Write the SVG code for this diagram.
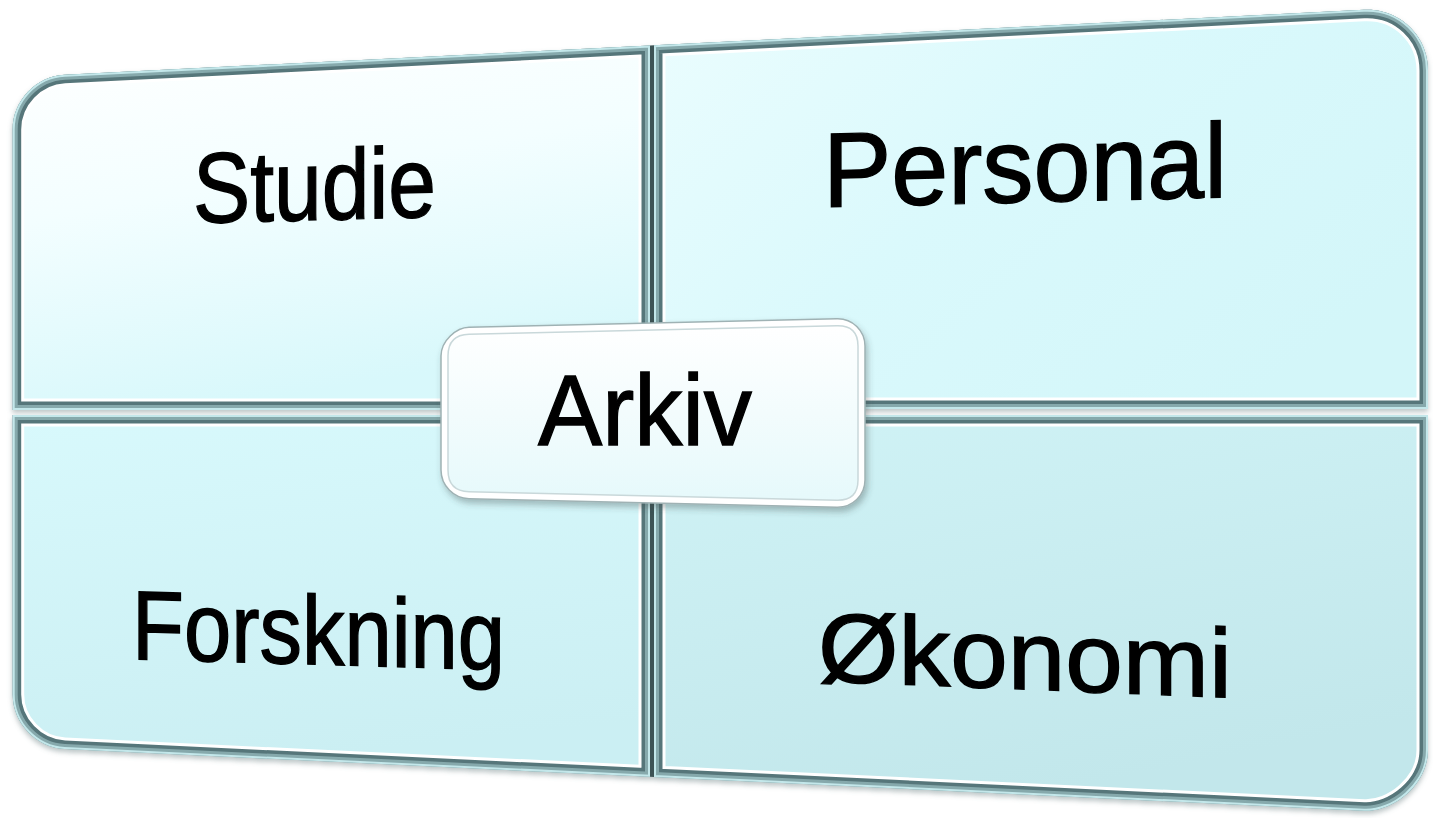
<svg xmlns="http://www.w3.org/2000/svg" xmlns:xlink="http://www.w3.org/1999/xlink" width="1433" height="818" viewBox="0 0 1433 818">
<style>
  .lbl { font-family: "Liberation Sans", Arial, sans-serif; fill: #000000; stroke: #000000; stroke-width: 1.4; }
  .b0 { fill: none; stroke: #ffffff; stroke-width: 23; }
  .b1 { fill: none; stroke: #56767a; stroke-width: 17; }
  .b2 { fill: none; stroke: #86a9ac; stroke-width: 10; }
  .b3 { fill: none; stroke: #c3e7ea; stroke-width: 4; }
</style>
<defs>
  <path id="pA" d="M12.7,410 L12.7,129.4 C12.7,100.8 36.1,76.2 64.7,74.8 L650,45.5 L650,410 Z"/>
  <path id="pB" d="M654,45.3 L1364,9.8 C1399.2,8.0 1428,35.4 1428,70.6 L1428,409 L654,409 Z"/>
  <path id="pC" d="M12.7,415 L650,415 L650,776.8 L64.7,749 C36.1,747.6 12.7,723.1 12.7,694.5 Z"/>
  <path id="pD" d="M654,415 L1428,415 L1428,749.7 C1428,784.9 1392.8,812 1364,810.7 L654,776.9 Z"/>
  <path id="pE" d="M441,356 C441,340.6 456.4,327.6 469,327.3 L837,318.7 C852.4,318.3 865,330.6 865,346 L865,480 C865,495.4 852.4,507.6 837,507.3 L469,498.7 C453.6,498.4 441,485.4 441,470 Z"/>
  <clipPath id="cA"><use xlink:href="#pA"/></clipPath>
  <clipPath id="cB"><use xlink:href="#pB"/></clipPath>
  <clipPath id="cC"><use xlink:href="#pC"/></clipPath>
  <clipPath id="cD"><use xlink:href="#pD"/></clipPath>
  <linearGradient id="gA" x1="0" y1="0" x2="0.3" y2="1">
    <stop offset="0" stop-color="#ffffff"/>
    <stop offset="0.45" stop-color="#f3feff"/>
    <stop offset="1" stop-color="#d8f8fb"/>
  </linearGradient>
  <linearGradient id="gB" x1="0" y1="0" x2="1" y2="0.6">
    <stop offset="0" stop-color="#ebfdfe"/>
    <stop offset="0.5" stop-color="#daf9fc"/>
    <stop offset="1" stop-color="#d3f6f9"/>
  </linearGradient>
  <linearGradient id="gC" x1="0" y1="0" x2="0.2" y2="1">
    <stop offset="0" stop-color="#d8f9fc"/>
    <stop offset="1" stop-color="#cbeff3"/>
  </linearGradient>
  <linearGradient id="gD" x1="0" y1="0" x2="0.4" y2="1">
    <stop offset="0" stop-color="#d0f3f6"/>
    <stop offset="1" stop-color="#c2e7eb"/>
  </linearGradient>
  <linearGradient id="gE" x1="0" y1="0" x2="0" y2="1">
    <stop offset="0" stop-color="#ffffff"/>
    <stop offset="1" stop-color="#e6f9fb"/>
  </linearGradient>
  <filter id="shadow" x="-5%" y="-5%" width="110%" height="115%">
    <feDropShadow dx="0" dy="3" stdDeviation="2.5" flood-color="#6f8284" flood-opacity="0.45"/>
  </filter>
  <filter id="shadowE" x="-10%" y="-15%" width="125%" height="140%">
    <feDropShadow dx="2" dy="4" stdDeviation="3" flood-color="#3d4a4b" flood-opacity="0.35"/>
  </filter>
</defs>

<rect width="1433" height="818" fill="#ffffff"/>

<g id="panels" filter="url(#shadow)">
  <polygon points="650,45.5 654,45.3 654,776.9 650,776.8" fill="#3c5355"/>
  <g id="node-studie">
    <g clip-path="url(#cA)">
      <use xlink:href="#pA" fill="url(#gA)"/>
      <use xlink:href="#pA" class="b0"/>
      <use xlink:href="#pA" class="b1"/>
      <use xlink:href="#pA" class="b2"/>
      <use xlink:href="#pA" class="b3"/>
    </g>
    <text class="lbl" font-size="100" transform="translate(193,223) skewY(-1.5)" textLength="243" lengthAdjust="spacingAndGlyphs">Studie</text>
  </g>
  <g id="node-personal">
    <g clip-path="url(#cB)">
      <use xlink:href="#pB" fill="url(#gB)"/>
      <use xlink:href="#pB" class="b0"/>
      <use xlink:href="#pB" class="b1"/>
      <use xlink:href="#pB" class="b2"/>
      <use xlink:href="#pB" class="b3"/>
    </g>
    <text class="lbl" font-size="106" transform="translate(823,207) skewY(-1.4)" textLength="404" lengthAdjust="spacingAndGlyphs">Personal</text>
  </g>
  <g id="node-forskning">
    <g clip-path="url(#cC)">
      <use xlink:href="#pC" fill="url(#gC)"/>
      <use xlink:href="#pC" class="b0"/>
      <use xlink:href="#pC" class="b1"/>
      <use xlink:href="#pC" class="b2"/>
      <use xlink:href="#pC" class="b3"/>
    </g>
    <text class="lbl" font-size="98" transform="translate(132,659) skewY(1.7)" textLength="373" lengthAdjust="spacingAndGlyphs">Forskning</text>
  </g>
  <g id="node-okonomi">
    <g clip-path="url(#cD)">
      <use xlink:href="#pD" fill="url(#gD)"/>
      <use xlink:href="#pD" class="b0"/>
      <use xlink:href="#pD" class="b1"/>
      <use xlink:href="#pD" class="b2"/>
      <use xlink:href="#pD" class="b3"/>
    </g>
    <text class="lbl" font-size="98" transform="translate(818,681) skewY(2.3)" textLength="414" lengthAdjust="spacingAndGlyphs">Økonomi</text>
  </g>
</g>

<g id="connectors"/>

<g id="node-arkiv">
  <use xlink:href="#pE" fill="#ffffff" stroke="#9fb2b4" stroke-width="1.5" filter="url(#shadowE)"/>
  <path d="M448,356 Q448,334.8 469,334.3 L837,325.8 Q858,325.3 858,346 L858,480 Q858,500.6 837,500.2 L469,491.7 Q448,491.2 448,470 Z" fill="url(#gE)" stroke="#c9d8da" stroke-width="1.5"/>
  <text class="lbl" font-size="101" x="538" y="445" textLength="214" lengthAdjust="spacingAndGlyphs">Arkiv</text>
</g>
</svg>
